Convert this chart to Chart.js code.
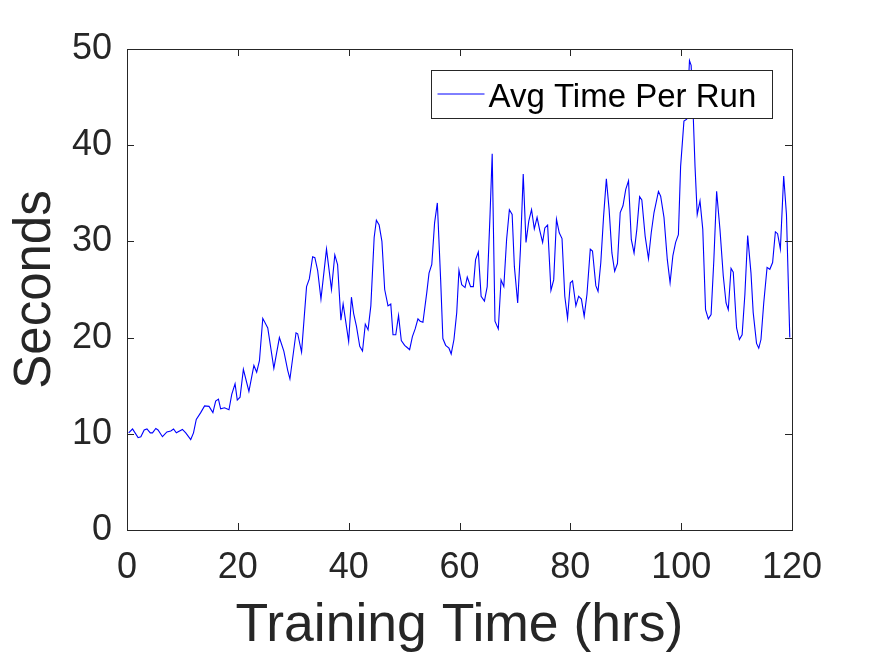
<!DOCTYPE html>
<html>
<head>
<meta charset="utf-8">
<script src="https://cdn.jsdelivr.net/npm/chart.js@4/dist/chart.umd.min.js"></script>
<style>
  html, body { margin: 0; padding: 0; background: #fff; }
  #wrap { width: 875px; height: 656px; }
</style>
</head>
<body>
<div id="wrap"><canvas id="chart" width="875" height="656"></canvas></div>
<script>
// hours of training
const hours = [
  0.3, 1.0, 2.0, 2.5, 3.1, 3.6, 4.2, 4.6, 5.2, 5.6, 6.4, 7.2, 7.9, 8.4, 8.9, 10.0, 10.6, 11.5, 12.0, 12.5,
  13.3, 14.0, 14.8, 15.5, 16.0, 16.5, 16.9, 17.6, 18.4, 18.9, 19.5, 19.9, 20.4, 21.0, 22.0, 22.9, 23.4, 23.9, 24.5, 25.4,
  26.5, 27.5, 28.3, 29.0, 29.4, 30.5, 30.8, 31.5, 32.4, 32.9, 33.5, 33.9, 34.4, 35.0, 36.0, 36.9, 37.5, 38.0, 38.6, 39.0,
  40.0, 40.5, 40.9, 41.4, 42.0, 42.5, 43.0, 43.5, 44.0, 44.6, 45.0, 45.5, 46.0, 46.5, 47.1, 47.6, 48.0, 48.5, 49.0, 49.5,
  50.1, 50.5, 51.0, 51.5, 52.0, 52.5, 52.9, 53.4, 54.1, 54.5, 55.0, 55.5, 56.0, 56.6, 57.0, 57.5, 58.1, 58.5, 59.0, 59.5,
  59.9, 60.4, 61.0, 61.4, 62.0, 62.5, 62.9, 63.4, 63.9, 64.5, 65.0, 65.5, 65.9, 66.4, 67.0, 67.5, 68.0, 68.5, 69.0, 69.5,
  69.9, 70.5, 71.0, 71.5, 72.0, 72.5, 73.0, 73.5, 74.0, 74.5, 75.0, 75.4, 75.9, 76.5, 77.0, 77.5, 78.0, 78.5, 79.0, 79.5,
  80.0, 80.4, 81.0, 81.5, 82.0, 82.5, 83.0, 83.6, 84.0, 84.6, 85.0, 85.5, 86.0, 86.5, 87.0, 87.5, 88.0, 88.5, 89.0, 89.5,
  90.0, 90.5, 91.0, 91.5, 92.0, 92.5, 92.9, 93.5, 94.1, 94.6, 95.1, 95.9, 96.3, 96.9, 97.5, 98.0, 98.5, 99.0, 99.5, 99.9,
  100.5, 101.0, 101.5, 101.8, 102.2, 102.5, 102.9, 103.4, 103.9, 104.4, 104.9, 105.4, 105.9, 106.4, 107.0, 107.6, 108.1, 108.5, 109.0, 109.4,
  110.0, 110.5, 111.0, 111.5, 112.0, 112.6, 113.0, 113.6, 114.0, 114.4, 114.9, 115.5, 116.0, 116.5, 117.0, 117.4, 117.9, 118.5, 119.0, 119.6
];

// average seconds per run at those hours
const avgSeconds = [
  10.1, 10.5, 9.6, 9.7, 10.4, 10.5, 10.1, 10.1, 10.55, 10.4, 9.7, 10.2, 10.3, 10.5, 10.1, 10.45, 10.1, 9.4, 10.1, 11.5,
  12.2, 12.9, 12.85, 12.2, 13.4, 13.6, 12.6, 12.7, 12.5, 14.1, 15.2, 13.5, 13.8, 16.7, 14.4, 17.1, 16.4, 17.6, 22.0, 21.0,
  16.8, 20.0, 18.6, 16.6, 15.7, 20.5, 20.4, 18.5, 25.3, 26.1, 28.4, 28.3, 27.0, 24.0, 29.2, 25.0, 28.6, 27.6, 21.8, 23.5,
  19.6, 24.2, 22.5, 21.2, 19.1, 18.6, 21.4, 20.8, 23.3, 30.4, 32.2, 31.7, 30.0, 25.0, 23.3, 23.5, 20.3, 20.3, 22.3, 19.7,
  19.2, 19.0, 18.75, 20.1, 20.9, 21.95, 21.7, 21.6, 24.7, 26.7, 27.6, 31.9, 34.0, 26.0, 19.9, 19.2, 18.9, 18.3, 19.8, 22.6,
  27.0, 25.5, 25.2, 26.3, 25.3, 25.3, 28.1, 28.9, 24.3, 23.8, 25.3, 32.6, 39.1, 21.7, 20.9, 26.0, 25.3, 30.2, 33.3, 32.8,
  27.4, 23.6, 29.2, 37.0, 29.9, 32.1, 33.3, 31.3, 32.5, 31.1, 29.9, 31.4, 31.7, 24.9, 26.0, 32.3, 30.9, 30.3, 24.3, 22.0,
  25.7, 25.9, 23.3, 24.3, 24.0, 22.2, 24.5, 29.2, 29.0, 25.4, 24.8, 27.8, 32.6, 36.5, 33.3, 28.8, 26.9, 27.7, 33.0, 33.7,
  35.4, 36.3, 30.2, 28.8, 31.25, 34.65, 34.3, 30.55, 28.2, 30.9, 33.0, 35.2, 34.7, 32.5, 28.1, 25.7, 28.5, 29.9, 30.7, 37.8,
  42.5, 42.7, 48.8, 48.3, 42.7, 37.8, 32.8, 34.2, 31.25, 22.9, 21.95, 22.4, 28.1, 35.2, 31.25, 26.4, 23.6, 22.9, 27.2, 26.8,
  21.0, 19.8, 20.3, 24.5, 30.6, 26.7, 22.6, 19.4, 18.9, 19.8, 23.6, 27.3, 27.1, 27.8, 31.0, 30.8, 29.2, 36.8, 32.8, 20.0
];

const xTicks = [0, 20, 40, 60, 80, 100, 120];
const yTicks = [0, 10, 20, 30, 40, 50];
const seriesName = "Avg Time Per Run";

const FONT = "'Liberation Sans', Arial, sans-serif";
const AXIS_COLOR = "#262626";

// box round the axes and tick marks pointing inwards, like MATLAB
const boxPlugin = {
  id: "box",
  afterDatasetsDraw(chart) {
    const { ctx, chartArea: a, scales } = chart;
    ctx.save();
    ctx.strokeStyle = AXIS_COLOR;
    ctx.lineWidth = 1;
    ctx.beginPath();
    xTicks.forEach(v => {
      const x = Math.round(scales.x.getPixelForValue(v)) + 0.5;
      ctx.moveTo(x, a.bottom); ctx.lineTo(x, a.bottom - 7);
      ctx.moveTo(x, a.top); ctx.lineTo(x, a.top + 7);
    });
    yTicks.forEach(v => {
      const y = Math.round(scales.y.getPixelForValue(v)) + 0.5;
      ctx.moveTo(a.left, y); ctx.lineTo(a.left + 7, y);
      ctx.moveTo(a.right, y); ctx.lineTo(a.right - 7, y);
    });
    ctx.stroke();
    ctx.strokeRect(Math.round(a.left) + 0.5, Math.round(a.top) + 0.5,
                   Math.round(a.right - a.left), Math.round(a.bottom - a.top));

    // legend box, drawn over the line
    const w = 341, h = 48;
    const lx = Math.round(a.right - 20 - w) + 0.5, ly = Math.round(a.top + 21) + 0.5;
    ctx.fillStyle = "#fff";
    ctx.fillRect(lx, ly, w, h);
    ctx.strokeStyle = AXIS_COLOR;
    ctx.strokeRect(lx, ly, w, h);
    ctx.strokeStyle = "#0000ff";
    ctx.beginPath();
    ctx.moveTo(lx + 6, ly + 23.5); ctx.lineTo(lx + 53, ly + 23.5);
    ctx.stroke();
    ctx.fillStyle = "#000";
    ctx.font = "33px " + FONT;
    ctx.textBaseline = "alphabetic";
    ctx.textAlign = "left";
    ctx.fillText(seriesName, lx + 57, ly + 36);
    ctx.restore();
  }
};

const chart = new Chart(document.getElementById("chart").getContext("2d"), {
  type: "line",
  data: {
    datasets: [{
      label: seriesName,
      data: hours.map((h, i) => ({ x: h, y: avgSeconds[i] })),
      borderColor: "#0000ff",
      borderWidth: 1.1,
      pointRadius: 0,
      tension: 0,
      fill: false
    }]
  },
  options: {
    responsive: false,
    animation: false,
    devicePixelRatio: 1,
    layout: { padding: { top: 49, right: 83, left: 0, bottom: 0 } },
    plugins: { legend: { display: false }, tooltip: { enabled: false } },
    scales: {
      x: {
        type: "linear",
        min: 0, max: 120,
        afterBuildTicks: s => { s.ticks = xTicks.map(v => ({ value: v })); },
        afterFit: s => { s.height = 126; },
        grid: { display: false, drawTicks: false },
        border: { display: false },
        ticks: { color: AXIS_COLOR, font: { family: FONT, size: 36 }, padding: 16, maxRotation: 0 },
        title: { display: true, text: "Training Time (hrs)", color: AXIS_COLOR,
                 font: { family: FONT, size: 53.5, lineHeight: 1.1 }, padding: { top: 0, bottom: 0 } }
      },
      y: {
        type: "linear",
        min: 0, max: 50,
        afterBuildTicks: s => { s.ticks = yTicks.map(v => ({ value: v })); },
        afterFit: s => { s.width = 127; },
        grid: { display: false, drawTicks: false },
        border: { display: false },
        ticks: { color: AXIS_COLOR, font: { family: FONT, size: 36 }, padding: 15 },
        title: { display: true, text: "Seconds", color: AXIS_COLOR,
                 font: { family: FONT, size: 51 }, padding: { top: 5, bottom: 0 } }
      }
    }
  },
  plugins: [boxPlugin]
});
</script>
</body>
</html>
